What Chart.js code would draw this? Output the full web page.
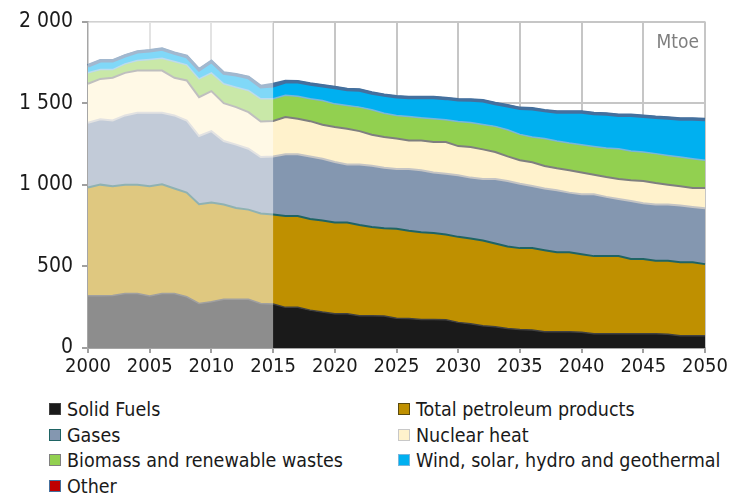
<!DOCTYPE html>
<html>
<head>
<meta charset="utf-8">
<script src="https://cdn.jsdelivr.net/npm/chart.js@4.4.1/dist/chart.umd.min.js"></script>
<style>
  body{margin:0;background:#fff;}
  #wrap{position:relative;width:738px;height:498px;font-family:"DejaVu Sans Condensed","DejaVu Sans",sans-serif;}
  #legend .item{position:absolute;font-size:19.5px;color:#1a1a1a;white-space:nowrap;line-height:22px;}
  #legend .box{display:inline-block;width:10px;height:10px;margin-right:6px;vertical-align:1px;}
</style>
</head>
<body>
<div id="wrap">
  <canvas id="chart" width="738" height="390"></canvas>
  <div id="legend"></div>
</div>
<script>
// ====== DATA ======
const years = [];
for(let y=2000;y<=2050;y++) years.push(String(y));

const solidFuels = [320,320,322,334,334,318,334,334,314,273,283,298,298,298,273,270,
  249,249,232,220,210,210,198,198,196,183,181,175,175,173,157,149,137,130,120,114,110,100,100,100,96,88,88,88,88,88,88,84,75,75,75];
const petroleum = [663,681,669,667,667,673,669,643,638,608,608,581,560,550,551,548,
  560,560,559,561,559,559,556,544,538,547,537,534,530,522,524,522,522,510,502,498,502,499,487,487,479,475,475,475,458,458,446,450,451,451,439];
const gases = [397,400,403,424,440,450,438,448,442,418,438,389,388,373,346,356,
  378,378,383,379,371,356,371,375,371,367,379,380,371,373,377,373,377,396,401,395,381,378,379,365,367,379,363,350,355,341,345,345,347,338,342];
const nuclear = [239,248,262,261,259,259,259,231,245,238,245,232,230,224,218,217,
  228,218,216,208,214,219,204,190,188,186,175,183,186,194,179,187,181,165,151,143,145,138,135,137,133,120,122,123,127,136,132,122,118,117,125];
const biomass = [67,57,50,55,61,68,76,99,96,112,112,119,122,133,139,136,
  134,138,137,149,142,142,147,153,146,142,147,139,143,137,151,151,153,157,163,159,155,168,167,167,171,173,177,185,179,178,180,179,179,179,169];
const renewables = [42,52,52,48,52,52,54,50,50,54,68,64,75,78,72,79,
  81,87,89,89,99,97,103,101,109,113,115,123,129,129,132,136,144,139,146,158,172,170,176,188,198,201,207,203,217,217,221,228,232,242,248];
const other = [3,3,3,3,3,3,3,3,3,3,3,3,3,3,5,10,
  5,3,3,3,3,3,3,3,3,3,3,3,3,3,3,3,3,3,3,3,3,3,3,3,3,3,3,3,3,3,3,3,3,3,3];

const seriesNames = ['Solid Fuels','Total petroleum products','Gases','Nuclear heat',
  'Biomass and renewable wastes','Wind, solar, hydro and geothermal','Other'];
const seriesValues = [solidFuels,petroleum,gases,nuclear,biomass,renewables,other];
const fillColors = ['#1a1a1a','#bf9000','#8497b0','#fff2cc','#92d050','#00b0f0','#c00000'];
// line seen at the top edge of each band
const edgeColors = ['#404040','#1f6464','#c4c4c4','#7f7f7f','#79b6dc','#44709e','#44709e'];
const edgeWidths = [1.5,2,2,2,1.5,3,3];
// outline of the legend boxes
const legendBorders = ['#404040','#5a4a10','#1f6464','#c8c8c8','#7f7f7f','#79b6dc','#44709e'];
const historyEnd = '2015';

// ====== PLUGINS ======
const historyShade = {
  id:'historyShade',
  afterDatasetsDraw(chart){
    const {ctx, chartArea, scales} = chart;
    const xEnd = scales.x.getPixelForValue(years.indexOf(historyEnd));
    ctx.save();
    ctx.fillStyle = 'rgba(255,255,255,0.5)';
    ctx.fillRect(chartArea.left, chartArea.top, xEnd - chartArea.left, chartArea.bottom - chartArea.top);
    ctx.restore();
  },
  afterDraw(chart){
    const {ctx, chartArea} = chart;
    ctx.save();
    ctx.font = '19px "DejaVu Sans Condensed", "DejaVu Sans", sans-serif';
    ctx.fillStyle = '#7f7f7f';
    ctx.textAlign = 'right';
    ctx.textBaseline = 'middle';
    ctx.fillText('Mtoe', chartArea.right - 6, chartArea.top + 21);
    ctx.restore();
  }
};

// ====== CHART ======
const datasets = seriesNames.map((name,i)=>({
  label:name,
  data:seriesValues[i],
  backgroundColor:fillColors[i],
  borderColor:edgeColors[i],
  borderWidth:edgeWidths[i],
  fill:i===0?'origin':'-1',
  pointRadius:0,
  tension:0
}));

const chart = new Chart(document.getElementById('chart'),{
  type:'line',
  data:{labels:years, datasets},
  plugins:[historyShade],
  options:{
    responsive:false,
    animation:false,
    layout:{padding:{left:0,right:33,top:21,bottom:0}},
    plugins:{legend:{display:false},tooltip:{enabled:false}},
    scales:{
      x:{
        stacked:true,
        grid:{color:'#c6c6c6',lineWidth:2,tickLength:5,tickColor:'#a0a0a0'},
        border:{color:'#a6a6a6',width:2},
        ticks:{
          autoSkip:false,maxRotation:0,padding:2,color:'#1a1a1a',
          font:{family:'"DejaVu Sans Condensed","DejaVu Sans",sans-serif',size:20},
          callback:(v,i)=> Number(years[i])%5===0 ? years[i] : null
        },
        afterFit:s=>{ s.height = 42; }
      },
      y:{
        stacked:true,
        min:0,max:2000,
        grid:{color:'#c6c6c6',lineWidth:2,tickLength:6,tickColor:'#a0a0a0'},
        border:{color:'#a6a6a6',width:2},
        ticks:{
          stepSize:500,padding:9,color:'#1a1a1a',
          font:{family:'"DejaVu Sans Condensed","DejaVu Sans",sans-serif',size:21},
          callback:v=>String(v).replace(/\B(?=(\d{3})+(?!\d))/g,' ')
        },
        afterFit:s=>{ s.width = 88; }
      }
    }
  }
});

// ====== LEGEND ======
const legend = document.getElementById('legend');
chart.data.datasets.forEach((d,i)=>{
  const item = document.createElement('div');
  item.className = 'item';
  item.style.left = (i%2===0 ? 49 : 398) + 'px';
  item.style.top = (399 + Math.floor(i/2)*25.7) + 'px';
  item.innerHTML = `<span class="box" style="background:${d.backgroundColor};border:1.5px solid ${legendBorders[i]}"></span>${d.label}`;
  legend.appendChild(item);
});
</script>
</body>
</html>
